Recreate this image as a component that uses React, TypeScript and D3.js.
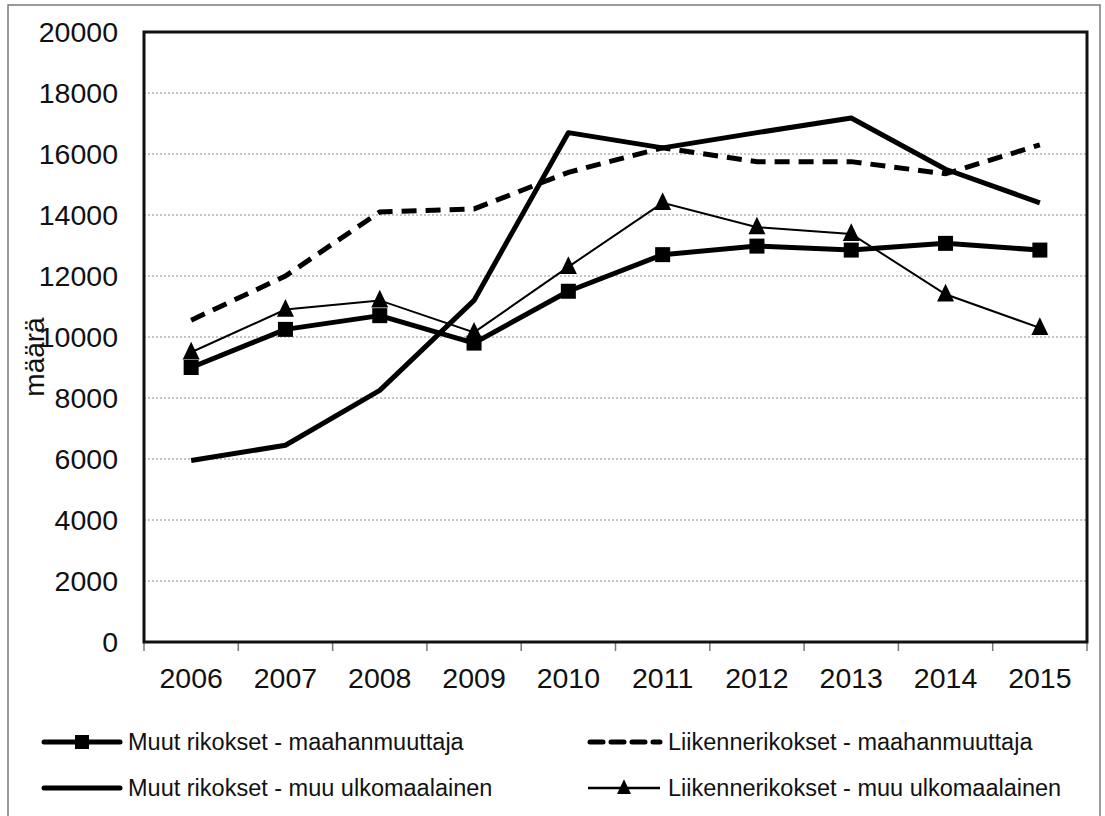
import React from "react";
import * as d3 from "d3";

const years = ["2006", "2007", "2008", "2009", "2010", "2011", "2012", "2013", "2014", "2015"];
const muutMaahanmuuttaja = [9000, 10250, 10700, 9800, 11500, 12700, 12980, 12850, 13070, 12850];
const liikenneMaahanmuuttaja = [10550, 12000, 14100, 14200, 15400, 16200, 15750, 15750, 15350, 16300];
const muutUlkomaalainen = [5950, 6450, 8250, 11200, 16700, 16200, 16700, 17180, 15500, 14400];
const liikenneUlkomaalainen = [9500, 10900, 11200, 10150, 12300, 14400, 13600, 13380, 11400, 10300];
const yTicks = [0, 2000, 4000, 6000, 8000, 10000, 12000, 14000, 16000, 18000, 20000];
const legendLabels = [
  "Muut rikokset - maahanmuuttaja",
  "Liikennerikokset - maahanmuuttaja",
  "Muut rikokset - muu ulkomaalainen",
  "Liikennerikokset - muu ulkomaalainen",
];

const FONT = "'Liberation Sans', Arial, sans-serif";

export default function App() {
  const left = 144, right = 1087, top = 32, bottom = 642;
  const x = d3.scaleBand<string>().domain(years).range([left, right]);
  const y = d3.scaleLinear().domain([0, 20000]).range([bottom, top]);
  const cx = (i: number) => (x(years[i]) as number) + x.bandwidth() / 2;
  const line = d3.line<number>().x((_, i) => cx(i)).y((d) => y(d));

  const tri = (px: number, py: number, s = 17) =>
    `M${px},${py - s * 0.62}L${px + s / 2},${py + s * 0.42}L${px - s / 2},${py + s * 0.42}Z`;

  const boundaries = [...years.map((yr) => x(yr) as number), right];

  return (
    <svg width={1105} height={816} style={{ position: "absolute", left: 0, top: 0, background: "#fff" }}>
      <rect x={8} y={5} width={1092} height={820} fill="#fff" stroke="#7a7a7a" strokeWidth={1.5} />
      {/* grid */}
      {yTicks.filter((t) => t > 0 && t < 20000).map((t) => (
        <line key={t} x1={left} x2={right} y1={y(t)} y2={y(t)} stroke="#8c8c8c" strokeWidth={1.2} strokeDasharray="2,2" />
      ))}
      {/* y labels */}
      {yTicks.map((t) => (
        <text key={t} x={118} y={y(t)} dy="0.36em" textAnchor="end" fontFamily={FONT} fontSize={28.5} fill="#111">
          {t}
        </text>
      ))}
      {/* x ticks */}
      {boundaries.map((b, i) => (
        <line key={i} x1={b} x2={b} y1={bottom} y2={bottom + 9} stroke="#777" strokeWidth={1.5} />
      ))}
      {years.map((yr, i) => (
        <text key={yr} x={cx(i)} y={678} dy="0.36em" textAnchor="middle" fontFamily={FONT} fontSize={28.5} fill="#111">
          {yr}
        </text>
      ))}
      <text transform={`translate(44,357) rotate(-90)`} textAnchor="middle" fontFamily={FONT} fontSize={28} fill="#111">
        määrä
      </text>
      {/* series */}
      <path d={line(muutUlkomaalainen) || ""} fill="none" stroke="#000" strokeWidth={5} strokeLinejoin="round" />
      <path d={line(liikenneMaahanmuuttaja) || ""} fill="none" stroke="#000" strokeWidth={5} strokeDasharray="15,9" />
      <path d={line(liikenneUlkomaalainen) || ""} fill="none" stroke="#000" strokeWidth={2} />
      {liikenneUlkomaalainen.map((v, i) => (
        <path key={i} d={tri(cx(i), y(v))} fill="#000" />
      ))}
      <path d={line(muutMaahanmuuttaja) || ""} fill="none" stroke="#000" strokeWidth={5} strokeLinejoin="round" />
      {muutMaahanmuuttaja.map((v, i) => (
        <rect key={i} x={cx(i) - 7.5} y={y(v) - 7.5} width={15} height={15} fill="#000" />
      ))}
      {/* plot frame */}
      <rect x={left} y={top} width={right - left} height={bottom - top} fill="none" stroke="#111" strokeWidth={3} />
      {/* legend */}
      <g fontFamily={FONT} fontSize={23.5} fill="#111">
        <line x1={44} x2={120} y1={742} y2={742} stroke="#000" strokeWidth={5} strokeLinecap="round" />
        <rect x={75} y={735} width={14} height={14} fill="#000" />
        <text x={128} y={742} dy="0.36em">{legendLabels[0]}</text>
        <line x1={590} x2={660} y1={742} y2={742} stroke="#000" strokeWidth={5} strokeDasharray="13,8" strokeLinecap="round" />
        <text x={668} y={742} dy="0.36em">{legendLabels[1]}</text>
        <line x1={44} x2={120} y1={788} y2={788} stroke="#000" strokeWidth={5} strokeLinecap="round" />
        <text x={128} y={788} dy="0.36em">{legendLabels[2]}</text>
        <line x1={588} x2={660} y1={788} y2={788} stroke="#000" strokeWidth={2.5} />
        <path d={tri(624, 788, 14)} fill="#000" />
        <text x={668} y={788} dy="0.36em">{legendLabels[3]}</text>
      </g>
    </svg>
  );
}
